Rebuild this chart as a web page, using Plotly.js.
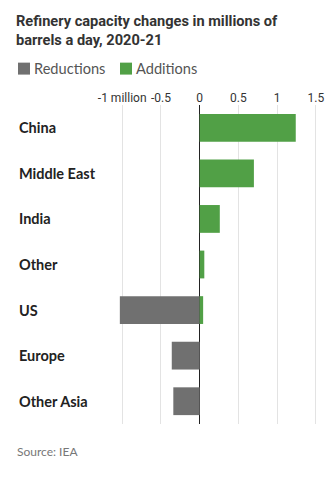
<!DOCTYPE html>
<html>
<head>
<meta charset="utf-8">
<script src="https://cdn.plot.ly/plotly-3.0.1.min.js"></script>
<style>
html,body{margin:0;padding:0;background:#fff;}
#chart{width:336px;height:477px;}
</style>
</head>
<body>
<div id="chart"></div>
<script>
const categories = ["China", "Middle East", "India", "Other", "US", "Europe", "Other Asia"];
const reductions = [0, 0, 0, 0, -1.03, -0.36, -0.34];
const additions = [1.24, 0.70, 0.26, 0.06, 0.045, 0, 0];
const tickVals = [-1, -0.5, 0, 0.5, 1, 1.5];
const tickText = ["-1 million", "-0.5", "0", "0.5", "1", "1.5"];
const seriesNames = ["Reductions", "Additions"];
const seriesColors = ["#707070", "#51a046"];

const W = 336, H = 477, ML = 110, MR = 16, MT = 104.5, MB = 52.5;
const PW = W - ML - MR, PH = H - MT - MB;
const px = x => (x - ML) / PW;
const py = y => 1 - (y - MT) / PH;

const traces = [
  {type: "bar", orientation: "h", name: seriesNames[0], y: categories, x: reductions,
   marker: {color: seriesColors[0]}, hoverinfo: "skip"},
  {type: "bar", orientation: "h", name: seriesNames[1], y: categories, x: additions,
   marker: {color: seriesColors[1]}, hoverinfo: "skip"}
];

const annotations = categories.map(c => ({
  xref: "paper", yref: "y", x: px(17), y: c, xanchor: "left", yanchor: "middle",
  text: "<b>" + c + "</b>", showarrow: false,
  font: {family: "Lato, sans-serif", size: 14.5, color: "#222"}
}));
annotations.push({
  xref: "paper", yref: "paper", x: px(15), y: py(452), xanchor: "left", yanchor: "middle",
  text: "Source: IEA", showarrow: false,
  font: {family: "Lato, sans-serif", size: 12, color: "#777"}
});

// legend built from series names/colors
const legendX = [18, 120];
const shapes = [];
seriesNames.forEach((n, i) => {
  shapes.push({type: "rect", xref: "paper", yref: "paper",
    x0: px(legendX[i]), x1: px(legendX[i] + 12), y0: py(74), y1: py(62),
    fillcolor: seriesColors[i], line: {width: 0}});
  annotations.push({xref: "paper", yref: "paper", x: px(legendX[i] + 14), y: py(68),
    xanchor: "left", yanchor: "middle", text: n, showarrow: false,
    font: {family: "Lato, sans-serif", size: 14.6, color: "#555"}});
});

const layout = {
  width: W, height: H,
  margin: {l: ML, r: MR, t: MT, b: MB, pad: 0},
  paper_bgcolor: "#fff", plot_bgcolor: "#fff",
  barmode: "relative", bargap: 0.39,
  title: {text: "<b>Refinery capacity changes in millions of<br>barrels a day, 2020-21</b>",
          x: 16 / W, xref: "container", xanchor: "left", y: 1 - 26 / H, yref: "container", yanchor: "top",
          font: {family: "'Liberation Sans Narrow', 'Roboto', sans-serif", size: 14.6, color: "#333"}},
  showlegend: false,
  xaxis: {side: "top", range: [-1.157, 1.553], tickvals: tickVals, ticktext: tickText,
          tickangle: 0, showgrid: true, gridcolor: "#e3e3e3", gridwidth: 1,
          zeroline: true, zerolinecolor: "#222", zerolinewidth: 1.5,
          ticks: "", fixedrange: true, showline: false,
          tickfont: {family: "'Liberation Sans Narrow', 'Roboto', sans-serif", size: 12, color: "#333"}},
  yaxis: {type: "category", autorange: "reversed", showticklabels: false, showgrid: false,
          zeroline: false, ticks: "", fixedrange: true},
  annotations: annotations,
  shapes: shapes
};

Plotly.newPlot("chart", traces, layout, {displayModeBar: false, staticPlot: true});
</script>
</body>
</html>
